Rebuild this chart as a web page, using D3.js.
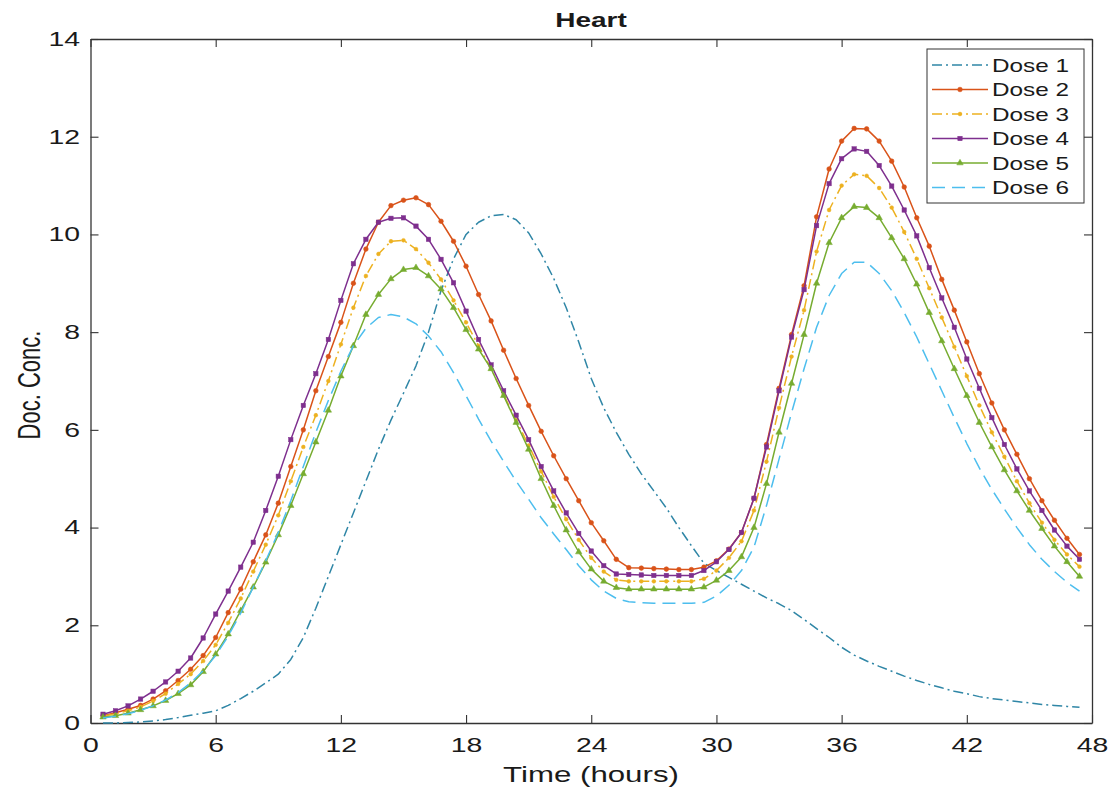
<!DOCTYPE html>
<html>
<head>
<meta charset="utf-8">
<script src="https://cdn.jsdelivr.net/npm/d3@7"></script>
<style>
  html, body { margin: 0; padding: 0; background: #ffffff; }
  svg { display: block; font-family: "Liberation Sans", Arial, Helvetica, sans-serif; }
</style>
</head>
<body>
<svg id="chart" width="1119" height="793"></svg>
<script>
// Sampling times (hours)
const hours = [
  0.6, 1.2, 1.8, 2.4, 3.0, 3.6, 4.2, 4.8, 5.4, 6.0,
  6.6, 7.2, 7.8, 8.4, 9.0, 9.6, 10.2, 10.8, 11.4, 12.0,
  12.6, 13.2, 13.8, 14.4, 15.0, 15.6, 16.2, 16.8, 17.4, 18.0,
  18.6, 19.2, 19.8, 20.4, 21.0, 21.6, 22.2, 22.8, 23.4, 24.0,
  24.6, 25.2, 25.8, 26.4, 27.0, 27.6, 28.2, 28.8, 29.4, 30.0,
  30.6, 31.2, 31.8, 32.4, 33.0, 33.6, 34.2, 34.8, 35.4, 36.0,
  36.6, 37.2, 37.8, 38.4, 39.0, 39.6, 40.2, 40.8, 41.4, 42.0,
  42.6, 43.2, 43.8, 44.4, 45.0, 45.6, 46.2, 46.8, 47.4
];

// Doxorubicin concentration in heart tissue, one array per dosing schedule
const dose1 = [
  0.00, 0.00, 0.01, 0.02, 0.04, 0.07, 0.11, 0.16, 0.20, 0.25,
  0.36, 0.50, 0.65, 0.82, 1.00, 1.30, 1.75, 2.35, 3.00, 3.65,
  4.30, 4.95, 5.60, 6.20, 6.75, 7.31, 8.00, 8.85, 9.50, 10.00,
  10.25, 10.38, 10.41, 10.30, 10.03, 9.60, 9.10, 8.50, 7.80, 7.05,
  6.45, 5.95, 5.50, 5.10, 4.75, 4.40, 4.00, 3.63, 3.27, 3.12,
  2.98, 2.84, 2.70, 2.56, 2.44, 2.30, 2.12, 1.93, 1.75, 1.55,
  1.39, 1.27, 1.16, 1.06, 0.96, 0.87, 0.79, 0.72, 0.65, 0.60,
  0.54, 0.50, 0.47, 0.44, 0.41, 0.38, 0.36, 0.34, 0.32
];
const dose2 = [
  0.15, 0.21, 0.28, 0.36, 0.49, 0.66, 0.87, 1.10, 1.38, 1.75,
  2.26, 2.74, 3.30, 3.85, 4.50, 5.25, 6.00, 6.80, 7.50, 8.20,
  9.00, 9.70, 10.25, 10.59, 10.70, 10.75, 10.61, 10.27, 9.86, 9.35,
  8.77, 8.23, 7.63, 7.05, 6.50, 5.97, 5.47, 5.00, 4.55, 4.10,
  3.73, 3.35, 3.18, 3.17, 3.16, 3.15, 3.14, 3.14, 3.19, 3.32,
  3.56, 3.90, 4.60, 5.70, 6.85, 7.95, 8.95, 10.36, 11.34, 11.91,
  12.17, 12.16, 11.91, 11.50, 10.97, 10.34, 9.76, 9.08, 8.45, 7.80,
  7.15, 6.55, 6.00, 5.50, 5.00, 4.55, 4.15, 3.78, 3.45
];
const dose3 = [
  0.14, 0.19, 0.25, 0.33, 0.45, 0.60, 0.80, 1.00, 1.27, 1.60,
  2.05, 2.55, 3.10, 3.65, 4.25, 4.95, 5.65, 6.30, 7.00, 7.75,
  8.50, 9.15, 9.60, 9.86, 9.88, 9.70, 9.42, 9.08, 8.65, 8.20,
  7.72, 7.25, 6.72, 6.20, 5.68, 5.15, 4.63, 4.17, 3.75, 3.38,
  3.10, 2.93, 2.90, 2.90, 2.90, 2.90, 2.90, 2.90, 2.95, 3.12,
  3.38, 3.72, 4.35, 5.35, 6.45, 7.50, 8.45, 9.65, 10.50, 11.00,
  11.23, 11.20, 10.95, 10.55, 10.05, 9.50, 8.90, 8.30, 7.70, 7.10,
  6.50, 5.95, 5.45, 4.95, 4.50, 4.10, 3.75, 3.45, 3.20
];
const dose4 = [
  0.18, 0.25, 0.35, 0.49, 0.65, 0.84, 1.06, 1.33, 1.74, 2.23,
  2.70, 3.19, 3.70, 4.35, 5.05, 5.80, 6.50, 7.15, 7.85, 8.65,
  9.40, 9.90, 10.25, 10.33, 10.34, 10.17, 9.90, 9.49, 9.01, 8.43,
  7.85, 7.33, 6.80, 6.30, 5.80, 5.25, 4.75, 4.30, 3.88, 3.52,
  3.22, 3.05, 3.04, 3.03, 3.02, 3.02, 3.02, 3.02, 3.12, 3.30,
  3.55, 3.90, 4.60, 5.65, 6.80, 7.90, 8.87, 10.18, 11.04, 11.55,
  11.75, 11.70, 11.41, 10.99, 10.50, 9.97, 9.32, 8.70, 8.10, 7.45,
  6.85, 6.25, 5.70, 5.20, 4.75, 4.35, 3.95, 3.62, 3.35
];
const dose5 = [
  0.12, 0.15, 0.20, 0.27, 0.35, 0.46, 0.60, 0.78, 1.05, 1.41,
  1.82, 2.30, 2.78, 3.29, 3.85, 4.45, 5.10, 5.75, 6.40, 7.10,
  7.72, 8.36, 8.77, 9.09, 9.28, 9.32, 9.15, 8.88, 8.50, 8.05,
  7.65, 7.25, 6.70, 6.15, 5.60, 5.00, 4.45, 3.95, 3.50, 3.15,
  2.90, 2.77, 2.74, 2.74, 2.74, 2.74, 2.74, 2.74, 2.78, 2.92,
  3.12, 3.40, 4.00, 4.90, 5.95, 6.95, 7.95, 9.00, 9.83, 10.34,
  10.57, 10.55, 10.34, 9.93, 9.50, 8.98, 8.40, 7.82, 7.25, 6.70,
  6.15, 5.65, 5.18, 4.75, 4.35, 3.98, 3.62, 3.30, 3.00
];
const dose6 = [
  0.10, 0.14, 0.19, 0.26, 0.35, 0.47, 0.62, 0.82, 1.07, 1.38,
  1.78, 2.25, 2.78, 3.32, 3.90, 4.55, 5.25, 5.95, 6.60, 7.20,
  7.72, 8.08, 8.30, 8.36, 8.31, 8.17, 7.92, 7.60, 7.17, 6.70,
  6.22, 5.77, 5.35, 4.95, 4.58, 4.20, 3.87, 3.55, 3.22, 2.93,
  2.70, 2.55, 2.48, 2.46, 2.45, 2.45, 2.45, 2.45, 2.47, 2.60,
  2.82, 3.12, 3.60, 4.45, 5.40, 6.35, 7.25, 8.10, 8.75, 9.20,
  9.43, 9.43, 9.20, 8.85, 8.40, 7.90, 7.35, 6.80, 6.25, 5.72,
  5.22, 4.78, 4.38, 4.00, 3.65, 3.35, 3.10, 2.88, 2.70
];

const seriesNames = ["Dose 1", "Dose 2", "Dose 3", "Dose 4", "Dose 5", "Dose 6"];
const seriesValues = [dose1, dose2, dose3, dose4, dose5, dose6];
const xTicks = [0, 6, 12, 18, 24, 30, 36, 42, 48];
const yTicks = [0, 2, 4, 6, 8, 10, 12, 14];

// Line style for each series (MATLAB default colour order)
const styles = [
  { color: "#2f86a6", dash: "10,4,2,4", marker: null },
  { color: "#D95319", dash: null, marker: "circle" },
  { color: "#EDB120", dash: "10,4,2,4", marker: "dot" },
  { color: "#7E2F8E", dash: null, marker: "square" },
  { color: "#77AC30", dash: null, marker: "triangle" },
  { color: "#4DBEEE", dash: "13,7", marker: null }
];

const svg = d3.select("#chart");
const plot = { left: 90.5, right: 1092, top: 39, bottom: 723 };
const x = d3.scaleLinear().domain([0, 48]).range([plot.left, plot.right]);
const y = d3.scaleLinear().domain([0, 14]).range([plot.bottom, plot.top]);

const axisColor = "#333333";
const stretch = 1.42;

function styleAxis(g) {
  g.select(".domain").attr("stroke", axisColor).attr("stroke-width", 1.3);
  g.selectAll(".tick line").attr("stroke", axisColor).attr("stroke-width", 1.1);
  g.selectAll(".tick text").attr("fill", "#1a1a1a").attr("font-size", 20)
    .attr("font-family", "'Liberation Sans', Arial, sans-serif");
}

// Box axes with inward ticks
svg.append("g").attr("transform", `translate(0,${plot.bottom})`)
  .call(d3.axisBottom(x).tickValues(xTicks).tickSizeInner(-8).tickSizeOuter(0).tickPadding(15).tickFormat(d3.format("d")))
  .call(styleAxis)
  .call(g => g.selectAll(".tick text").attr("transform", `scale(${stretch},1)`));

svg.append("g").attr("transform", `translate(${plot.left},0)`)
  .call(d3.axisLeft(y).tickValues(yTicks).tickSizeInner(-8).tickSizeOuter(0).tickPadding(7.4).tickFormat(d3.format("d")))
  .call(styleAxis)
  .call(g => g.selectAll(".tick text").attr("transform", `scale(${stretch},1)`));

svg.append("g").attr("transform", `translate(0,${plot.top})`)
  .call(d3.axisTop(x).tickValues(xTicks).tickSizeInner(-8).tickSizeOuter(0).tickFormat(""))
  .call(styleAxis);

svg.append("g").attr("transform", `translate(${plot.right},0)`)
  .call(d3.axisRight(y).tickValues(yTicks).tickSizeInner(-8).tickSizeOuter(0).tickFormat(""))
  .call(styleAxis);

// Curves
const line = d3.line().x(d => x(d.t)).y(d => y(d.v));

function drawMarker(g, kind, color, cx, cy) {
  if (kind === "circle") {
    g.append("circle").attr("cx", cx).attr("cy", cy).attr("r", 2.3)
      .attr("fill", color).attr("stroke", color).attr("stroke-width", 0.6);
  } else if (kind === "dot") {
    g.append("circle").attr("cx", cx).attr("cy", cy).attr("r", 1.9)
      .attr("fill", color).attr("stroke", color).attr("stroke-width", 0.5);
  } else if (kind === "square") {
    g.append("rect").attr("x", cx - 2.2).attr("y", cy - 2.2).attr("width", 4.4).attr("height", 4.4)
      .attr("fill", color).attr("stroke", color).attr("stroke-width", 0.5);
  } else if (kind === "triangle") {
    g.append("path").attr("d", d3.symbol(d3.symbolTriangle, 18)())
      .attr("transform", `translate(${cx},${cy})`)
      .attr("fill", color).attr("stroke", color).attr("stroke-width", 0.5);
  }
}

const curves = svg.append("g");
seriesValues.forEach((vals, i) => {
  const st = styles[i];
  const pts = hours.map((t, k) => ({ t, v: vals[k] }));
  const g = curves.append("g");
  g.append("path").datum(pts).attr("d", line)
    .attr("fill", "none").attr("stroke", st.color).attr("stroke-width", 1.5)
    .attr("stroke-linejoin", "round")
    .attr("stroke-dasharray", st.dash);
  if (st.marker) {
    pts.forEach(p => drawMarker(g, st.marker, st.color, x(p.t), y(p.v)));
  }
});

// Stretched text helper
function label(txt, tx, ty, opts) {
  const g = svg.append("g").attr("transform",
    `translate(${tx},${ty}) scale(${opts.sx},1)` + (opts.rotate ? ` rotate(${opts.rotate})` : ""));
  return g.append("text").text(txt)
    .attr("text-anchor", opts.anchor || "middle")
    .attr("font-size", opts.size)
    .attr("font-weight", opts.weight || "normal")
    .attr("fill", "#1a1a1a");
}

label("Heart", 591, 27, { sx: 1.4, size: 20, weight: "bold" });
label("Time (hours)", 591, 782, { sx: stretch, size: 22 });
label("Doc. Conc.", 40, 385, { sx: stretch, size: 22, rotate: -90 });

// Legend
const legend = svg.append("g");
legend.append("rect").attr("x", 927).attr("y", 49).attr("width", 157).attr("height", 154)
  .attr("fill", "#ffffff").attr("stroke", axisColor).attr("stroke-width", 1);
seriesNames.forEach((name, i) => {
  const st = styles[i];
  const ry = 65 + i * 24.5;
  legend.append("line").attr("x1", 932).attr("x2", 988).attr("y1", ry).attr("y2", ry)
    .attr("stroke", st.color).attr("stroke-width", 1.5).attr("stroke-dasharray", st.dash);
  if (st.marker) drawMarker(legend, st.marker, st.color, 960, ry);
  const g = legend.append("g").attr("transform", `translate(992,${ry + 6.5}) scale(1.35,1)`);
  g.append("text").text(name).attr("font-size", 18).attr("fill", "#1a1a1a");
});
</script>
</body>
</html>
